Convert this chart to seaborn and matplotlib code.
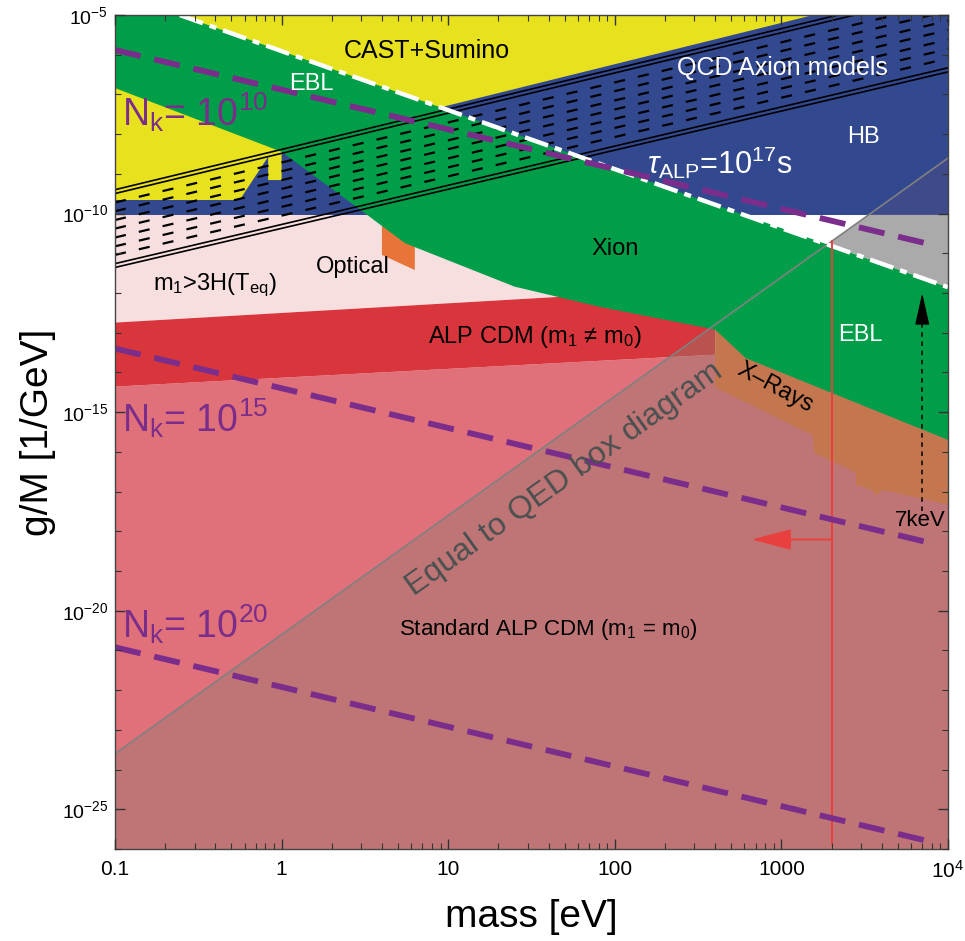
import numpy as np
import matplotlib.pyplot as plt
import seaborn as sns
from matplotlib.ticker import FixedLocator, FixedFormatter, LogLocator, NullFormatter

# ---- region outlines (mass in eV, g/M in 1/GeV) ----
std_m = [0.1, 1e4, 1e4, 400, 0.1]
std_g = [1e-26, 1e-26, 6.3e-14, 2.8e-14, 4.4e-15]

teq_m = [0.1, 400, 400, 0.1]
teq_g = [9.3e-11, 9.3e-11, 1.35e-12, 1.8e-13]

cdm_m = [0.1, 400, 400, 0.1]
cdm_g = [1.8e-13, 1.35e-12, 2.8e-14, 4.4e-15]

hb_m = [0.1, 1e4, 1e4, 0.1]
hb_g = [9.3e-11, 9.3e-11, 1e-5, 1e-5]

cast_m = [0.1, 0.56, 0.83, 0.83, 1.0, 1.0, 9.3, 1550, 0.1]
cast_g = [2.2e-10, 2.2e-10, 2.7e-9, 7e-10, 7e-10, 3.5e-9, 4.9e-8, 1e-5, 1e-5]

green_m = [0.1, 0.245, 1e4, 1e4, 610, 400, 81, 25, 5.5, 3.26, 1.0, 0.1]
green_g = [1e-5, 1e-5, 1.4e-12, 2.0e-16, 2.3e-14, 1.2e-13, 4.5e-13, 1.45e-12,
           1.8e-11, 9.3e-11, 3.6e-9, 1.45e-7]

opt_m = [4.0, 5.36, 6.3, 6.3, 4.0]
opt_g = [5.2e-11, 2.2e-11, 1.6e-11, 3.8e-12, 9.1e-12]

xray_m = [400, 415, 610, 1e4, 1e4, 4900, 4000, 3700, 3500, 2800, 2800, 1570, 1550, 400]
xray_g = [4.6e-12, 4.6e-12, 2.3e-14, 2.0e-16, 4.7e-18, 9.3e-18, 1.1e-17, 7.9e-18,
          1.1e-17, 1.5e-17, 3.0e-17, 9.5e-17, 2.6e-16, 4.2e-15]

shade_m = [0.1, 3340, 1e4, 1e4, 0.1]
shade_g = [2.5e-24, 9.3e-11, 9.3e-11, 1e-26, 1e-26]

hbtint_m = [3340, 1e4, 1e4]
hbtint_g = [9.3e-11, 9.3e-11, 2.5e-9]

grey_m = [1900, 3340, 1e4, 1e4]
grey_g = [1.7e-11, 9.3e-11, 9.3e-11, 1.4e-12]

# ---- lines ----
ebl_m = [0.245, 1e4]
ebl_g = [1e-5, 1.4e-12]

qed_m = [0.1, 1e4]
qed_g = [2.5e-24, 2.5e-9]

qcd_m = [0.1, 1e4]
qcd_solid = [[4.0e-10, 4.7e-5], [3.2e-10, 3.7e-5], [5.5e-12, 4.7e-7], [4.4e-12, 3.7e-7]]
qcd_dashed = [[1.9e-10, 2.1e-5], [1.15e-10, 1.26e-5], [6.9e-11, 7.2e-6], [4.2e-11, 4.2e-6],
              [2.5e-11, 2.4e-6], [1.5e-11, 1.4e-6], [9.1e-12, 8.1e-7]]

nk_m = [0.1, 8000]
nk_g = {"10": [1.32e-6, 1.65e-11], "15": [4.0e-14, 5.0e-19], "20": [1.2e-21, 1.5e-26]}

redline_m = [2000, 2000]
redline_g = [1.3e-26, 2.0e-11]
redarrow_g = 6.2e-19
redarrow_tip = 660

kev_m = [7000, 7000]
kev_g = [3.3e-18, 1.8e-13]
kev_tip = 1.0e-12

xticks = [0.1, 1, 10, 100, 1000, 1e4]
xticklabels = ["0.1", "1", "10", "100", "1000", "$10^4$"]
yticks = [1e-25, 1e-20, 1e-15, 1e-10, 1e-5]
yticklabels = ["$10^{-25}$", "$10^{-20}$", "$10^{-15}$", "$10^{-10}$", "$10^{-5}$"]

sns.set_style("ticks")
plt.rcParams["font.family"] = ["Liberation Sans", "DejaVu Sans"]
plt.rcParams["mathtext.fontset"] = "custom"
plt.rcParams["mathtext.rm"] = "Liberation Sans"
plt.rcParams["mathtext.it"] = "Liberation Sans:italic"
plt.rcParams["mathtext.bf"] = "Liberation Sans:bold"
plt.rcParams["text.color"] = "black"
plt.rcParams["axes.labelcolor"] = "black"

fig = plt.figure(figsize=(9.65, 9.41), dpi=100)
ax = fig.add_axes([0.1192, 0.0978, 0.8632, 0.8862])
ax.set_axisbelow(False)
ax.set_xscale("log")
ax.set_yscale("log")
ax.set_xlim(0.1, 1e4)
ax.set_ylim(1e-26, 1e-5)

# filled regions, back to front
ax.fill(std_m, std_g, color="#e0707a", lw=0)
ax.fill(teq_m, teq_g, color="#f8dfdf", lw=0)
ax.fill(cdm_m, cdm_g, color="#d8363c", lw=0)
ax.fill(hb_m, hb_g, color="#33498f", lw=0)
ax.fill(cast_m, cast_g, color="#e8e11e", lw=0)
ax.fill(opt_m, opt_g, color="#e8743a", lw=0)
ax.fill(xray_m, xray_g, color="#e8743a", lw=0)
ax.fill(shade_m, shade_g, color="#8f7d6e", alpha=0.4, lw=0)
ax.fill(hbtint_m, hbtint_g, color="#3f4a8a", lw=0)
ax.fill(green_m, green_g, color="#009e49", lw=0)
ax.fill(grey_m, grey_g, color="#aaaaaa", lw=0)

# QCD axion band
for g in qcd_solid:
    sns.lineplot(x=qcd_m, y=g, ax=ax, color="black", lw=1.2)
for g in qcd_dashed:
    sns.lineplot(x=qcd_m, y=g, ax=ax, color="black", lw=1.6, linestyle=(0, (5, 6)))

sns.lineplot(x=qed_m, y=qed_g, ax=ax, color="#808080", lw=1.2)
sns.lineplot(x=ebl_m, y=ebl_g, ax=ax, color="white", lw=3.2,
             linestyle=(0, (5.5, 1.6, 1.6, 1.6)))

# 2 keV bound and arrow
ax.plot(redline_m, redline_g, color="#e8403f", lw=1.4)
ax.annotate("", xy=(redarrow_tip, redarrow_g), xytext=(redline_m[0], redarrow_g),
            arrowprops=dict(arrowstyle="-|>,head_length=2.5,head_width=0.65",
                            color="#e8403f", lw=1.4, shrinkA=0, shrinkB=0,
                            mutation_scale=10))

# 7 keV line
ax.plot(kev_m, kev_g, color="black", lw=1.1, linestyle=(0, (3, 3)))
ax.annotate("", xy=(kev_m[0], kev_tip), xytext=(kev_m[1], kev_g[1]),
            arrowprops=dict(arrowstyle="-|>,head_length=2.0,head_width=0.45",
                            color="black", lw=1.0, shrinkA=0, shrinkB=0,
                            mutation_scale=10))

# N_k lines
purple = "#7b2d8b"
for key, g in nk_g.items():
    sns.lineplot(x=nk_m, y=g, ax=ax, color=purple, lw=4.2, linestyle=(0, (4.5, 2.4)))

# labels
ax.text(7.4, 1.24e-6, "CAST+Sumino", fontsize=18, ha="center", va="center")
ax.text(1.5, 1.84e-7, "EBL", fontsize=17, color="white", ha="center", va="center")
ax.text(1020, 4.6e-7, "QCD Axion models", fontsize=18, color="white", ha="center", va="center")
ax.text(3100, 8.5e-9, "HB", fontsize=17, color="white", ha="center", va="center")
ax.text(428, 1.9e-9, r"$\tau_{\mathrm{ALP}}$=10$^{17}$s", fontsize=22, color="white",
        ha="center", va="center")
ax.text(100, 1.3e-11, "Xion", fontsize=17, ha="center", va="center")
ax.text(2.68, 4.6e-12, "Optical", fontsize=17, ha="center", va="center")
ax.text(0.40, 1.6e-12, r"m$_1$>3H(T$_{\mathrm{eq}}$)", fontsize=17, ha="center", va="center")
ax.text(33, 7.9e-14, "ALP CDM (m$_1$ ≠ m$_0$)", fontsize=17, ha="center", va="center")
ax.text(2970, 8.9e-14, "EBL", fontsize=17, color="white", ha="center", va="center")
ax.text(916, 4.2e-15, "X–Rays", fontsize=17, rotation=-28, ha="center", va="center")
ax.text(50, 2.1e-17, "Equal to QED box diagram", fontsize=23, color="#4a5050",
        rotation=35.5, ha="center", va="center")
ax.text(40, 3.4e-21, "Standard ALP CDM (m$_1$ = m$_0$)", fontsize=16, ha="center", va="center")
ax.text(6800, 1.9e-18, "7keV", fontsize=16, ha="center", va="center")

for key, gy in [("10", 3.6e-8), ("15", 7.2e-16), ("20", 4.5e-21)]:
    ax.text(0.11, gy, r"N$_{\mathrm{k}}$= 10$^{%s}$" % key, fontsize=27, color=purple,
            ha="left", va="center")

# axes
ax.xaxis.set_major_locator(FixedLocator(xticks))
ax.xaxis.set_major_formatter(FixedFormatter(xticklabels))
ax.xaxis.set_minor_locator(LogLocator(base=10, subs=np.arange(2, 10), numticks=20))
ax.xaxis.set_minor_formatter(NullFormatter())
ax.yaxis.set_major_locator(FixedLocator(yticks))
ax.yaxis.set_major_formatter(FixedFormatter(yticklabels))
ax.yaxis.set_minor_locator(LogLocator(base=10, subs=(1.0,), numticks=40))
ax.yaxis.set_minor_formatter(NullFormatter())
ax.tick_params(which="both", direction="in", top=True, right=True, color="#333333",
               labelcolor="black")
ax.tick_params(which="major", length=7, width=1.0, labelsize=15)
ax.tick_params(which="minor", length=4, width=0.8)
ax.tick_params(axis="x", which="major", pad=8)
ax.tick_params(axis="y", which="major", pad=5, labelsize=14)
for s in ax.spines.values():
    s.set_color("#444444")
    s.set_linewidth(1.0)

ax.set_xlabel("mass [eV]", fontsize=28, labelpad=12)
ax.set_ylabel("g/M [1/GeV]", fontsize=28, labelpad=4)

fig.savefig("out.png", dpi=100)
